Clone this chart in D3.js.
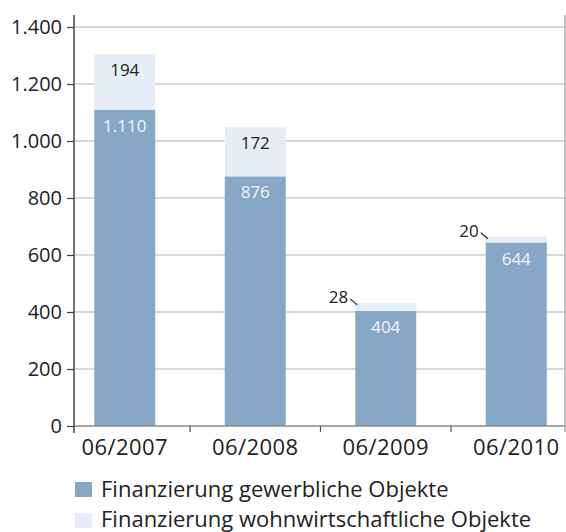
<!DOCTYPE html>
<html>
<head>
<meta charset="utf-8">
<script src="https://cdn.jsdelivr.net/npm/d3@7"></script>
<style>
  body { margin: 0; background: #fff; }
  svg { display: block; font-family: "Open Sans", sans-serif; }
</style>
</head>
<body>
<svg id="chart" width="566" height="532"></svg>
<script>
// === DATA ===
const categories = ["06/2007", "06/2008", "06/2009", "06/2010"];
const gewerblich = [1110, 876, 404, 644];   // Finanzierung gewerbliche Objekte
const wohnwirtschaftlich = [194, 172, 28, 20]; // Finanzierung wohnwirtschaftliche Objekte
const yTicks = [0, 200, 400, 600, 800, 1000, 1200, 1400];
const seriesNames = ["Finanzierung gewerbliche Objekte", "Finanzierung wohnwirtschaftliche Objekte"];
// labels of small segments sit outside the bar with a leader line
const outsideLabel = [false, false, true, true];

const darkBlue = "#86a8c6";
const lightBlue = "#e6edf6";

const svg = d3.select("#chart");
const axisX = 74, rightX = 565;

const x = d3.scaleBand()
    .domain(categories)
    .range([59.5, 581.5])
    .paddingInner(0.5326)
    .paddingOuter(0.2663);

const y = d3.scaleLinear().domain([0, 1400]).range([426, 27]);

const fmt = v => d3.format(",")(v).replace(/,/g, ".");

// gridlines
svg.append("g")
    .selectAll("line")
    .data(yTicks.slice(1))
    .join("line")
    .attr("x1", axisX).attr("x2", rightX)
    .attr("y1", d => y(d)).attr("y2", d => y(d))
    .attr("stroke", "#cdcdcd")
    .attr("stroke-width", 1.5);

// bars
const bars = svg.append("g");
categories.forEach((c, i) => {
    const x0 = x(c), w = x.bandwidth();
    const top1 = y(gewerblich[i]);
    const top2 = y(gewerblich[i] + wohnwirtschaftlich[i]);
    bars.append("rect")
        .attr("x", x0).attr("width", w)
        .attr("y", top1).attr("height", y(0) - top1)
        .attr("fill", darkBlue);
    bars.append("rect")
        .attr("x", x0).attr("width", w)
        .attr("y", top2).attr("height", top1 - top2)
        .attr("fill", lightBlue);

    // value labels
    bars.append("text")
        .attr("x", x0 + w / 2).attr("y", top1 + 16)
        .attr("dy", "0.36em")
        .attr("text-anchor", "middle")
        .attr("font-size", 17)
        .attr("fill", "#f2f5f9")
        .text(fmt(gewerblich[i]));

    if (outsideLabel[i]) {
        bars.append("text")
            .attr("x", x0 - 7).attr("y", top2 - 6)
            .attr("dy", "0.36em")
            .attr("text-anchor", "end")
            .attr("font-size", 17)
            .attr("fill", "#222")
            .text(fmt(wohnwirtschaftlich[i]));
        bars.append("line")
            .attr("x1", x0 - 5).attr("y1", top2 - 4)
            .attr("x2", x0 + 2).attr("y2", top2 + 2)
            .attr("stroke", "#222").attr("stroke-width", 1.2);
    } else {
        bars.append("text")
            .attr("x", x0 + w / 2).attr("y", top2 + 16)
            .attr("dy", "0.36em")
            .attr("text-anchor", "middle")
            .attr("font-size", 17)
            .attr("fill", "#222")
            .text(fmt(wohnwirtschaftlich[i]));
    }
});

// x axis line, right frame line and category ticks
svg.append("line")
    .attr("x1", axisX).attr("x2", rightX)
    .attr("y1", y(0)).attr("y2", y(0))
    .attr("stroke", "#8a8a8a").attr("stroke-width", 1.5);
svg.append("line")
    .attr("x1", rightX).attr("x2", rightX)
    .attr("y1", 15).attr("y2", 432)
    .attr("stroke", "#9a9a9a").attr("stroke-width", 1.2);
svg.append("g")
    .selectAll("line")
    .data(categories.slice(1))
    .join("line")
    .attr("x1", d => x(d) - x.step() * x.paddingInner() / 2)
    .attr("x2", d => x(d) - x.step() * x.paddingInner() / 2)
    .attr("y1", y(0)).attr("y2", y(0) + 6)
    .attr("stroke", "#555").attr("stroke-width", 1.2);

svg.append("g")
    .selectAll("text")
    .data(categories)
    .join("text")
    .attr("x", d => x(d) + x.bandwidth() / 2)
    .attr("y", 455)
    .attr("text-anchor", "middle")
    .attr("font-size", 22)
    .attr("letter-spacing", 0.4)
    .attr("fill", "#222")
    .text(d => d);

// y axis
const yAxis = d3.axisLeft(y)
    .tickValues(yTicks)
    .tickSize(7)
    .tickPadding(5)
    .tickFormat(fmt);
const gy = svg.append("g")
    .attr("transform", `translate(${axisX},0)`)
    .call(yAxis);
gy.select(".domain").remove();
gy.selectAll(".tick line").attr("stroke", "#444").attr("stroke-width", 1.2);
gy.selectAll(".tick text")
    .attr("font-family", "Open Sans, sans-serif")
    .attr("font-size", 20)
    .attr("fill", "#222");
svg.append("line")
    .attr("x1", axisX).attr("x2", axisX)
    .attr("y1", 15).attr("y2", 433)
    .attr("stroke", "#444").attr("stroke-width", 1.5);

// legend
const legend = svg.append("g");
[darkBlue, lightBlue].forEach((col, i) => {
    legend.append("rect")
        .attr("x", 75).attr("y", 482 + i * 31)
        .attr("width", 17).attr("height", 15)
        .attr("fill", col);
    legend.append("text")
        .attr("x", 101).attr("y", 497 + i * 30)
        .attr("font-size", 22)
        .attr("fill", "#222")
        .text(seriesNames[i]);
});
</script>
</body>
</html>
